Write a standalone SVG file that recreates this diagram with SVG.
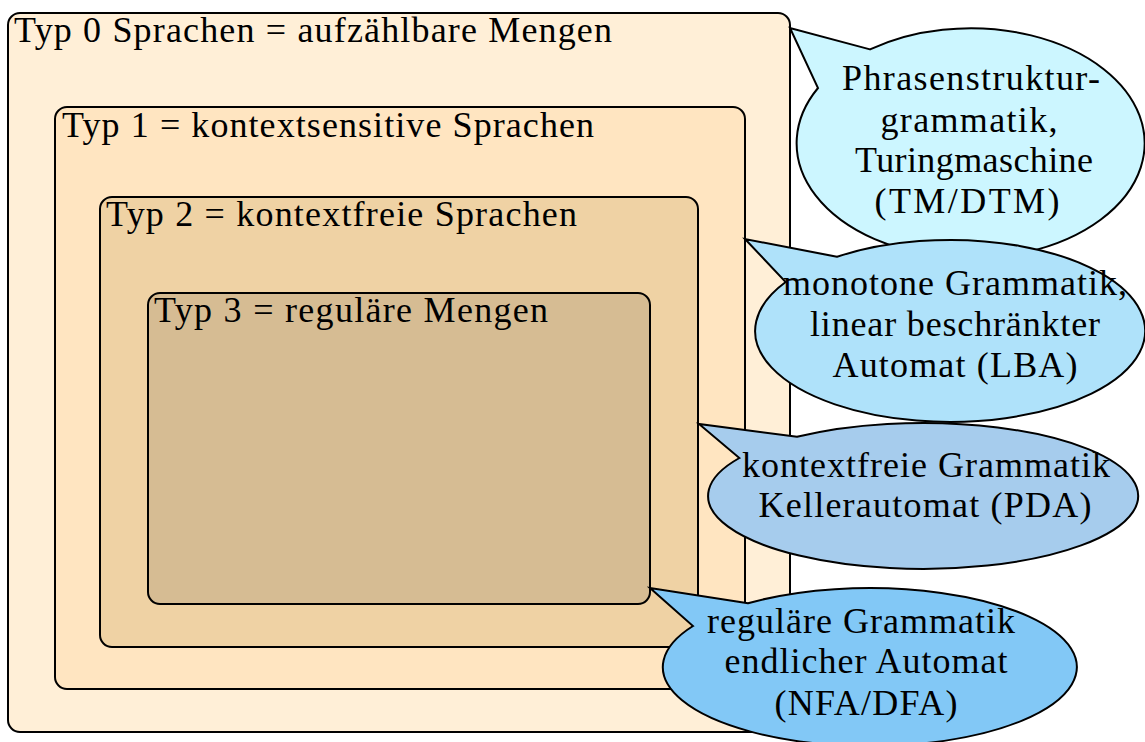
<svg xmlns="http://www.w3.org/2000/svg" width="1145" height="742" viewBox="0 0 1145 742">
<style>
.box{stroke:#000;stroke-width:2}
.call{stroke:#000;stroke-width:2;stroke-linejoin:miter}
.c{text-anchor:middle}
</style>
<rect width="1145" height="742" fill="#fff"/>
<g font-family="Liberation Serif" font-size="36" fill="#000">
<g id="typ0"><rect class="box" x="8" y="13" width="782" height="719" rx="12" fill="#FFEFD7"/>
<text x="14" y="42" textLength="598" lengthAdjust="spacing">Typ 0 Sprachen = aufzählbare Mengen</text></g>
<g id="typ1"><rect class="box" x="55" y="107" width="690" height="582" rx="12" fill="#FFE5C1"/>
<text x="62" y="137" textLength="532" lengthAdjust="spacing">Typ 1 = kontextsensitive Sprachen</text></g>
<g id="typ2"><rect class="box" x="100" y="197" width="598" height="450" rx="12" fill="#EFD2A4"/>
<text x="106" y="226" textLength="471" lengthAdjust="spacing">Typ 2 = kontextfreie Sprachen</text></g>
<g id="typ3"><rect class="box" x="148" y="293" width="502" height="311" rx="12" fill="#D6BC93"/>
<text x="154" y="322" textLength="394" lengthAdjust="spacing">Typ 3 = reguläre Mengen</text></g>
<g id="connectors">
<path id="tail-tm" class="call" fill="#CCF6FF" d="M870 49.4 L790 28 L818 88 A174 115 0 1 0 870 49.4 Z"/>
<path id="tail-lba" class="call" fill="#AFE2FA" d="M837 256.8 L745 239 L785.7 282 A195 91 0 1 0 837 256.8 Z"/>
<path id="tail-pda" class="call" fill="#A6CCED" d="M797 436.8 L699 424 L739.4 458 A215 73 0 1 0 797 436.8 Z"/>
<path id="tail-nfa" class="call" fill="#82C8F6" d="M748 603.2 L650 588 L693 626 A207 79 0 1 0 748 603.2 Z"/>
</g>
<g id="tm">
<text class="c" x="971" y="90" textLength="258" lengthAdjust="spacing">Phrasenstruktur-</text>
<text class="c" x="969" y="132" textLength="177" lengthAdjust="spacing">grammatik,</text>
<text class="c" x="974" y="172" textLength="238" lengthAdjust="spacing">Turingmaschine</text>
<text class="c" x="967" y="213" textLength="185" lengthAdjust="spacing">(TM/DTM)</text>
</g>
<g id="lba">
<text class="c" x="955" y="295" textLength="344" lengthAdjust="spacing">monotone Grammatik,</text>
<text class="c" x="955" y="336" textLength="290" lengthAdjust="spacing">linear beschränkter</text>
<text class="c" x="955" y="377" textLength="245" lengthAdjust="spacing">Automat (LBA)</text>
</g>
<g id="pda">
<text class="c" x="926" y="477" textLength="368" lengthAdjust="spacing">kontextfreie Grammatik</text>
<text class="c" x="925" y="517" textLength="333" lengthAdjust="spacing">Kellerautomat (PDA)</text>
</g>
<g id="nfa">
<text class="c" x="861" y="633" textLength="308" lengthAdjust="spacing">reguläre Grammatik</text>
<text class="c" x="866" y="673" textLength="283" lengthAdjust="spacing">endlicher Automat</text>
<text class="c" x="866" y="715" textLength="183" lengthAdjust="spacing">(NFA/DFA)</text>
</g>
</g>
</svg>
